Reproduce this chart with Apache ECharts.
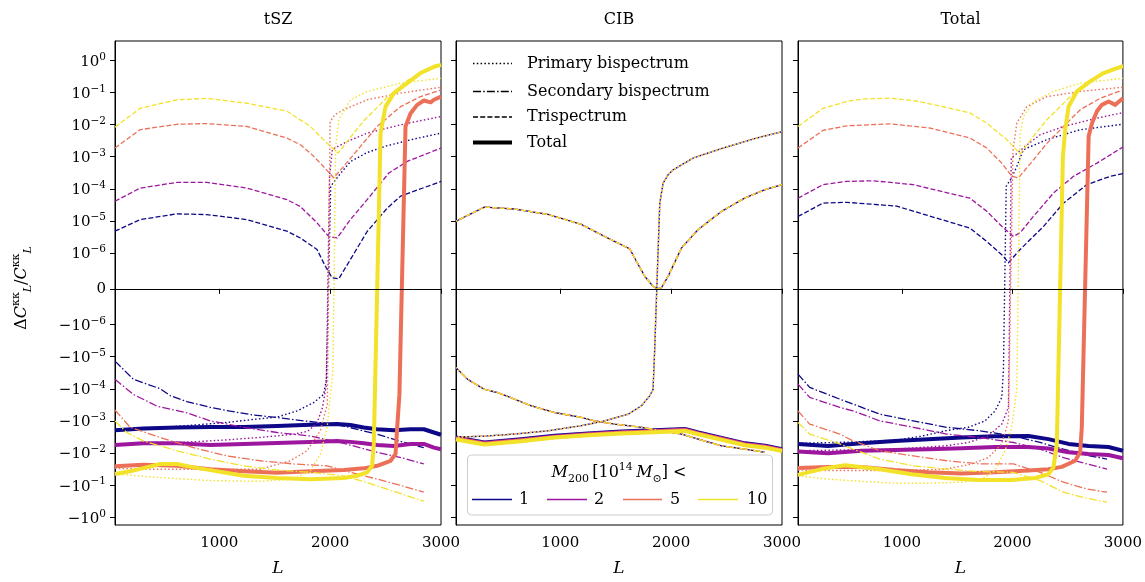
<!DOCTYPE html>
<html><head><meta charset="utf-8">
<script src="https://cdn.jsdelivr.net/npm/echarts@6/dist/echarts.min.js"></script>
<style>html,body{margin:0;padding:0;background:#fff}#c{width:1145px;height:582px}</style>
</head><body><div id="c"></div>
<script>
// ---------------- data ----------------
const L_TICKS = [1000, 2000, 3000];
const Y_EXPONENTS = [0, -1, -2, -3, -4, -5, -6];
const PANEL_TITLES = ['tSZ', 'CIB', 'Total'];
const MASS_LABELS = ['1', '2', '5', '10'];
const LINE_LABELS = ['Primary bispectrum', 'Secondary bispectrum', 'Trispectrum', 'Total'];

// tSZ panel
const tszPrim1 = [[60,-2.0e-3],[400,-1.7e-3],[768,-1.35e-3],[1069,-1.12e-3],[1310,-9.0e-4],[1521,-7.6e-4],[1702,-4.9e-4],[1852,-2.7e-4],[1942,-1.5e-4],[1967,-5e-5],[2005,1.2e-4],[2093,3.0e-4],[2183,7.0e-4],[2334,1.35e-3],[2515,2.2e-3],[2750,3.5e-3],[3000,5.4e-3]];
const tszPrim2 = [[60,-5.2e-3],[400,-4.9e-3],[700,-4.6e-3],[1069,-3.9e-3],[1400,-3.2e-3],[1672,-2.6e-3],[1800,-2.1e-3],[1880,-1.2e-3],[1930,-4e-4],[1965,-8e-5],[1995,2.5e-4],[2020,1.7e-3],[2153,2.95e-3],[2334,5.4e-3],[2635,9.8e-3],[3000,0.0178]];
const tszPrim5 = [[60,-0.030],[400,-0.032],[900,-0.032],[1370,-0.032],[1641,-0.0174],[1792,-8.5e-3],[1912,-2.0e-3],[1975,-3e-4],[2000,0.012],[2040,0.020],[2123,0.029],[2334,0.059],[2635,0.095],[3000,0.145]];
const tszPrim10 = [[60,-0.045],[467,-0.058],[919,-0.072],[1370,-0.076],[1671,-0.065],[1822,-0.035],[1912,-0.0107],[1973,-1.6e-3],[2025,-3e-5],[2050,2e-3],[2078,0.014],[2183,0.059],[2334,0.107],[2635,0.195],[3000,0.275]];
const tszSec1 = [[60,-1.38e-5],[226,-5.1e-5],[467,-1.0e-4],[560,-1.66e-4],[708,-2.5e-4],[919,-3.8e-4],[1100,-5.0e-4],[1310,-6.6e-4],[1521,-7.8e-4],[1762,-1.0e-3],[1950,-1.17e-3],[2123,-1.45e-3],[2424,-2.6e-3],[2650,-4.5e-3],[2845,-6.8e-3]];
const tszSec2 = [[60,-5.1e-5],[226,-1.5e-4],[440,-3.5e-4],[708,-5.6e-4],[919,-1.0e-3],[1220,-1.58e-3],[1521,-2.3e-3],[1822,-2.95e-3],[2123,-5.0e-3],[2424,-9.5e-3],[2650,-0.0141],[2845,-0.0219]];
const tszSec5 = [[60,-4.6e-4],[196,-1.58e-3],[467,-3.3e-3],[768,-6.8e-3],[1069,-0.0123],[1370,-0.0174],[1671,-0.0219],[1973,-0.0251],[2183,-0.0398],[2424,-0.0646],[2650,-0.105],[2845,-0.166]];
const tszSec10 = [[60,-1.0e-3],[166,-2.3e-3],[316,-4.2e-3],[618,-8.5e-3],[919,-0.0155],[1220,-0.0251],[1521,-0.0339],[1822,-0.0398],[2123,-0.0513],[2273,-0.0724],[2424,-0.105],[2650,-0.19],[2845,-0.316]];
const tszTri1 = [[60,4.8e-6],[286,1.1e-5],[618,1.66e-5],[889,1.58e-5],[1250,1.1e-5],[1611,4.8e-6],[1732,2.95e-6],[1882,1.29e-6],[1957,6.3e-7],[2018,3.1e-7],[2078,2.8e-7],[2183,8.2e-7],[2334,4.7e-6],[2515,2.5e-5],[2635,5.9e-5],[3000,1.7e-4]];
const tszTri2 = [[60,4.1e-5],[286,1.05e-4],[618,1.58e-4],[889,1.58e-4],[1250,1.05e-4],[1611,4.6e-5],[1732,2.8e-5],[1882,8.7e-6],[1987,3.3e-6],[2063,2.95e-6],[2183,1.1e-5],[2334,4.6e-5],[2530,3.1e-4],[2695,7.1e-4],[3000,1.86e-3]];
const tszTri5 = [[60,1.86e-3],[286,6.9e-3],[618,0.0102],[889,0.0107],[1250,8.7e-3],[1611,3.8e-3],[1732,2.34e-3],[1822,1.29e-3],[1912,6.3e-4],[2032,2.2e-4],[2123,5.0e-4],[2274,2.1e-3],[2424,8.7e-3],[2635,0.036],[2815,0.074],[3000,0.12]];
const tszTri10 = [[60,8.3e-3],[286,0.032],[618,0.059],[889,0.065],[1250,0.046],[1611,0.026],[1822,8.7e-3],[1957,2.95e-3],[2072,1.29e-3],[2190,4.3e-3],[2312,0.0141],[2523,0.074],[2704,0.245],[3000,0.72]];
const tszTot1 = [[60,-1.95e-3],[316,-1.74e-3],[618,-1.6e-3],[919,-1.55e-3],[1220,-1.55e-3],[1521,-1.45e-3],[1822,-1.32e-3],[2063,-1.26e-3],[2183,-1.35e-3],[2303,-1.6e-3],[2424,-1.82e-3],[2575,-1.95e-3],[2725,-1.82e-3],[2845,-1.82e-3],[2936,-2.3e-3],[3000,-2.7e-3]];
const tszTot2 = [[60,-5.6e-3],[316,-5.0e-3],[618,-5.0e-3],[919,-5.6e-3],[1220,-5.2e-3],[1521,-4.9e-3],[1822,-4.5e-3],[2063,-4.2e-3],[2183,-4.5e-3],[2303,-5.0e-3],[2424,-5.6e-3],[2575,-6.0e-3],[2725,-5.2e-3],[2845,-5.2e-3],[2936,-6.8e-3],[3000,-7.6e-3]];
const tszTot5 = [[60,-0.026],[316,-0.023],[618,-0.025],[919,-0.032],[1220,-0.037],[1521,-0.041],[1822,-0.037],[2123,-0.034],[2303,-0.030],[2424,-0.025],[2545,-0.0174],[2590,-0.0107],[2605,-1.6e-3],[2625,-1.5e-4],[2680,8.7e-3],[2725,0.022],[2785,0.041],[2846,0.056],[2906,0.049],[2936,0.059],[3000,0.074]];
const tszTot10 = [[60,-0.045],[196,-0.037],[316,-0.0295],[467,-0.022],[618,-0.022],[768,-0.028],[919,-0.034],[1220,-0.051],[1521,-0.060],[1822,-0.065],[2123,-0.060],[2243,-0.051],[2334,-0.040],[2379,-0.025],[2394,-5.2e-3],[2455,5.4e-3],[2500,0.036],[2575,0.095],[2695,0.195],[2815,0.40],[2936,0.63],[3000,0.72]];

// CIB panel
const cibPrim = [[60,-3.2e-3],[300,-3.0e-3],[587,-2.57e-3],[888,-2.04e-3],[1190,-1.41e-3],[1400,-1.0e-3],[1611,-6.2e-4],[1732,-3.4e-4],[1807,-1.66e-4],[1837,-1.05e-4],[1852,-5.9e-6],[1883,1.3e-6],[1898,3.6e-5],[1928,1.5e-4],[1973,2.75e-4],[2018,3.9e-4],[2199,9.1e-4],[2470,1.86e-3],[2772,3.8e-3],[3000,6.0e-3]];
const cibSec = [[60,-2.2e-5],[166,-5.1e-5],[316,-1.05e-4],[437,-1.32e-4],[587,-2.1e-4],[738,-3.4e-4],[949,-5.5e-4],[1190,-7.8e-4],[1310,-1.0e-3],[1491,-1.26e-3],[1732,-1.58e-3],[1913,-2.04e-3],[2094,-2.57e-3],[2245,-3.7e-3],[2456,-6.0e-3],[2666,-7.6e-3],[2847,-9.5e-3]];
const cibTri = [[60,9.8e-6],[316,2.7e-5],[587,2.35e-5],[888,1.6e-5],[1190,7.8e-6],[1400,3.3e-6],[1627,1.35e-6],[1687,7.7e-7],[1762,3.5e-7],[1837,7e-8],[1875,0],[1913,3e-8],[1973,3.5e-7],[2094,1.45e-6],[2244,5.4e-6],[2456,2.0e-5],[2666,5.2e-5],[2847,9.4e-5],[3000,1.35e-4]];
const cibTot1 = [[60,-3.3e-3],[316,-4.7e-3],[648,-3.7e-3],[949,-2.9e-3],[1250,-2.45e-3],[1551,-2.15e-3],[1853,-1.95e-3],[2124,-1.78e-3],[2245,-2.3e-3],[2456,-3.4e-3],[2666,-5.0e-3],[2847,-5.9e-3],[3000,-7.6e-3]];
const cibTot2 = [[60,-3.45e-3],[316,-4.9e-3],[648,-3.9e-3],[949,-3.05e-3],[1250,-2.55e-3],[1551,-2.25e-3],[1853,-2.05e-3],[2124,-1.86e-3],[2245,-2.4e-3],[2456,-3.55e-3],[2666,-5.2e-3],[2847,-6.2e-3],[3000,-7.9e-3]];
const cibTot5 = [[60,-3.6e-3],[316,-5.15e-3],[648,-4.05e-3],[949,-3.2e-3],[1250,-2.7e-3],[1551,-2.35e-3],[1853,-2.15e-3],[2124,-1.95e-3],[2245,-2.5e-3],[2456,-3.7e-3],[2666,-5.5e-3],[2847,-6.5e-3],[3000,-8.3e-3]];
const cibTot10 = [[60,-3.8e-3],[316,-5.4e-3],[648,-4.3e-3],[949,-3.3e-3],[1250,-2.8e-3],[1551,-2.45e-3],[1853,-2.25e-3],[2124,-2.05e-3],[2245,-2.6e-3],[2456,-3.9e-3],[2666,-5.75e-3],[2847,-6.8e-3],[3000,-8.7e-3]];

// Total panel
const totPrim1 = [[60,-5.0e-3],[500,-4.6e-3],[937,-4.0e-3],[1178,-3.0e-3],[1390,-2.04e-3],[1601,-1.58e-3],[1752,-1.0e-3],[1843,-4.9e-4],[1904,-1.86e-4],[1919,-2.5e-5],[1944,1.2e-4],[1994,2.2e-4],[2040,5.0e-4],[2100,1.66e-3],[2312,3.4e-3],[2614,6.9e-3],[3000,0.0102]];
const totPrim2 = [[60,-8.5e-3],[500,-8.0e-3],[937,-7.6e-3],[1390,-6.0e-3],[1601,-4.7e-3],[1782,-2.95e-3],[1904,-1.26e-3],[1964,-3.8e-4],[1990,9e-4],[2130,2.3e-3],[2250,4.8e-3],[2463,8.7e-3],[2765,0.0158],[3000,0.0234]];
const totPrim5 = [[60,-0.034],[332,-0.035],[937,-0.035],[1390,-0.032],[1632,-0.022],[1782,-0.0138],[1904,-5.2e-3],[1964,-1.0e-3],[2005,1.5e-3],[2040,0.011],[2130,0.036],[2312,0.074],[2614,0.107],[3000,0.145]];
const totPrim10 = [[60,-0.051],[332,-0.065],[634,-0.076],[937,-0.087],[1239,-0.087],[1541,-0.081],[1722,-0.065],[1843,-0.035],[1934,-8.5e-3],[1994,-1.58e-3],[2040,-1e-4],[2070,5e-3],[2100,0.0178],[2190,0.052],[2372,0.107],[2614,0.195],[3000,0.275]];
const totSec1 = [[60,-3.5e-5],[166,-9.1e-5],[438,-2.1e-4],[558,-3.0e-4],[801,-6.2e-4],[1103,-1.0e-3],[1405,-1.58e-3],[1707,-2.04e-3],[2009,-2.95e-3],[2251,-4.7e-3],[2462,-7.6e-3],[2674,-0.0117],[2856,-0.0155]];
const totSec2 = [[60,-7.2e-5],[166,-1.86e-4],[438,-3.8e-4],[558,-4.9e-4],[801,-1.0e-3],[1103,-1.58e-3],[1405,-2.57e-3],[1707,-3.3e-3],[2009,-4.7e-3],[2251,-7.6e-3],[2462,-0.0138],[2674,-0.0219],[2856,-0.0316]];
const totSec5 = [[60,-4.9e-4],[166,-1.26e-3],[438,-2.57e-3],[558,-4.2e-3],[801,-8.5e-3],[1103,-0.0123],[1405,-0.0174],[1707,-0.0219],[2009,-0.0219],[2251,-0.0398],[2462,-0.081],[2674,-0.132],[2856,-0.166]];
const totSec10 = [[60,-1.12e-3],[166,-2.57e-3],[438,-5.2e-3],[558,-7.6e-3],[801,-0.0155],[1103,-0.0251],[1405,-0.0316],[1707,-0.038],[2009,-0.0398],[2251,-0.0724],[2462,-0.166],[2674,-0.257],[2856,-0.339]];
const totTri1 = [[60,1.38e-5],[287,3.6e-5],[499,3.8e-5],[951,2.9e-5],[1616,6.0e-6],[1768,2.3e-6],[1919,9.1e-7],[1964,7.3e-7],[2070,1.29e-6],[2282,6.8e-6],[2463,3.6e-5],[2674,1.35e-4],[2886,2.45e-4],[3000,2.95e-4]];
const totTri2 = [[60,5.1e-5],[287,1.35e-4],[499,1.7e-4],[740,1.78e-4],[1102,1.35e-4],[1616,5.1e-5],[1768,2.0e-5],[1904,6.8e-6],[2010,3.3e-6],[2070,4.3e-6],[2190,1.38e-5],[2372,7.4e-5],[2553,2.45e-4],[2765,6.3e-4],[3000,2.0e-3]];
const totTri5 = [[60,1.86e-3],[287,6.6e-3],[499,9.1e-3],[891,0.0105],[1254,7.8e-3],[1616,3.8e-3],[1768,1.86e-3],[1904,6.3e-4],[1994,2.45e-4],[2055,2.2e-4],[2190,7.9e-4],[2312,2.6e-3],[2463,8.7e-3],[2614,0.029],[2795,0.066],[3000,0.12]];
const totTri10 = [[60,8.7e-3],[287,0.032],[499,0.052],[649,0.062],[891,0.066],[1102,0.056],[1345,0.038],[1616,0.023],[1768,0.011],[1949,3.4e-3],[2070,1.23e-3],[2190,4.3e-3],[2312,0.0141],[2523,0.074],[2704,0.245],[3000,0.72]];
const totTot1 = [[60,-5.2e-3],[332,-6.0e-3],[635,-5.0e-3],[937,-4.2e-3],[1239,-3.7e-3],[1541,-3.3e-3],[1843,-3.0e-3],[2145,-2.95e-3],[2326,-3.7e-3],[2508,-5.2e-3],[2689,-6.0e-3],[2870,-6.5e-3],[3000,-8.5e-3]];
const totTot2 = [[60,-8.9e-3],[332,-0.0102],[635,-8.5e-3],[937,-8.1e-3],[1239,-7.6e-3],[1541,-7.1e-3],[1843,-6.5e-3],[2145,-6.5e-3],[2326,-7.2e-3],[2508,-9.5e-3],[2689,-0.0107],[2870,-0.0115],[3000,-0.0145]];
const totTot5 = [[60,-0.0295],[332,-0.027],[635,-0.027],[937,-0.034],[1239,-0.040],[1541,-0.043],[1843,-0.040],[2145,-0.035],[2326,-0.032],[2447,-0.027],[2568,-0.0174],[2613,-9.5e-3],[2628,-1.6e-3],[2690,4.3e-3],[2720,0.011],[2765,0.026],[2810,0.041],[2870,0.052],[2931,0.041],[3000,0.066]];
const totTot10 = [[60,-0.048],[274,-0.0316],[484,-0.024],[785,-0.0316],[1088,-0.0457],[1390,-0.060],[1692,-0.069],[1994,-0.069],[2206,-0.060],[2326,-0.0457],[2372,-0.028],[2402,-5.2e-3],[2457,1.0e-3],[2478,6.9e-3],[2508,0.036],[2583,0.107],[2704,0.22],[2825,0.40],[2916,0.52],[3000,0.66]];

// ---------------- style ----------------
const F = "'DejaVu Serif', serif";
const COLORS = ['#0d0887', '#9c179e', '#ec7058', '#f3e22a'];
const KIND = {
  prim: {dash: [1.5, 2.3], width: 1.4, half: 1.9},
  sec:  {dash: [8, 2.2, 1.5, 2.2], width: 1.3, half: 7},
  tri:  {dash: [5, 2.2], width: 1.3, half: 3.6},
  tot:  {dash: 'solid', width: 4, half: 0}
};
const LT = 1e-6, LS = 1 / (1 - 1 / 10);
function sl(v) { const a = Math.abs(v); return a <= LT ? v / LT * LS : Math.sign(v) * (Math.log10(a / LT) + LS); }

const PANELS = [
  {prim: [tszPrim1, tszPrim2, tszPrim5, tszPrim10], sec: [tszSec1, tszSec2, tszSec5, tszSec10], tri: [tszTri1, tszTri2, tszTri5, tszTri10], tot: [tszTot1, tszTot2, tszTot5, tszTot10], shift: false},
  {prim: [cibPrim, cibPrim, cibPrim, cibPrim], sec: [cibSec, cibSec, cibSec, cibSec], tri: [cibTri, cibTri, cibTri, cibTri], tot: [cibTot1, cibTot2, cibTot5, cibTot10], shift: true},
  {prim: [totPrim1, totPrim2, totPrim5, totPrim10], sec: [totSec1, totSec2, totSec5, totSec10], tri: [totTri1, totTri2, totTri5, totTri10], tot: [totTot1, totTot2, totTot5, totTot10], shift: false}
];
const GRID_POS = [{left: 115, width: 326}, {left: 456, width: 326}, {left: 798, width: 325}];
const Y_MIN = -7.351, Y_MAX = 7.711;
const Y_TICK_POS = [...Y_EXPONENTS.map(e => sl(Math.pow(10, e))), 0, ...Y_EXPONENTS.map(e => sl(-Math.pow(10, e)))];

function yFmt(v) {
  if (Math.abs(v) < 0.5) return '{n|0}';
  const e = Math.round(Math.abs(v) - LS) - 6;
  const es = e < 0 ? '\u2212' + (-e) : String(e);
  return '{n|' + (v < 0 ? '\u221210' : '10') + '}{s|' + es + '}';
}

const grids = [], xAxes = [], yAxes = [], series = [];
GRID_POS.forEach((g, i) => {
  grids.push({left: g.left, top: 41, width: g.width, height: 485, show: true, borderColor: '#000', borderWidth: 1, backgroundColor: 'transparent'});
  xAxes.push({type: 'value', gridIndex: i, min: 60, max: 3000,
    axisLine: {show: true, lineStyle: {color: '#000', width: 1}},
    axisTick: {show: true, inside: false, length: 5, customValues: L_TICKS, lineStyle: {color: '#000', width: 1}},
    axisLabel: {customValues: L_TICKS, margin: 11, color: '#000', fontFamily: F, fontSize: 15, showMaxLabel: true, showMinLabel: true,
      formatter: v => String(Math.round(v))},
    splitLine: {show: false},
    name: 'L', nameLocation: 'middle', nameGap: 35,
    nameTextStyle: {fontFamily: F, fontSize: 17, fontStyle: 'italic', color: '#000'}});
  yAxes.push({type: 'value', gridIndex: i, min: Y_MIN, max: Y_MAX,
    axisLine: {show: true, lineStyle: {color: '#000', width: 1}},
    axisTick: {show: true, inside: false, length: 5, customValues: Y_TICK_POS, lineStyle: {color: '#000', width: 1}},
    axisLabel: {show: i === 0, customValues: Y_TICK_POS, margin: 9, formatter: yFmt, color: '#000',
      rich: {n: {fontFamily: F, fontSize: 15, color: '#000', verticalAlign: 'bottom'},
             s: {fontFamily: F, fontSize: 10.5, color: '#000', verticalAlign: 'bottom', padding: [0, 0, 7, 0]}}},
    splitLine: {show: false}});
  const P = PANELS[i];
  let first = true;
  for (let m = 0; m < 4; m++) {
    ['prim', 'sec', 'tri', 'tot'].forEach(k => {
      const K = KIND[k];
      const s = {type: 'line', xAxisIndex: i, yAxisIndex: i, name: MASS_LABELS[m],
        data: P[k][m].map(p => [p[0], sl(p[1])]),
        showSymbol: false, symbol: 'none', silent: true, animation: false, clip: true,
        lineStyle: {color: COLORS[m], width: K.width, type: K.dash, dashOffset: (P.shift && m > 0) ? K.half : 0, cap: 'butt', join: 'round'}};
      if (first) {
        s.markLine = {silent: true, symbol: ['none', 'none'], label: {show: false}, animation: false,
          lineStyle: {color: '#000', width: 1, type: 'solid'}, data: [{yAxis: 0}]};
        first = false;
      }
      series.push(s);
    });
  }
});

// ---------------- annotations ----------------
const graphics = [];
const titleX = [278, 619, 960.5];
PANEL_TITLES.forEach((t, i) => graphics.push({type: 'text', x: titleX[i], y: 20,
  style: {text: t, font: '16px ' + F, fill: '#000', align: 'center', verticalAlign: 'middle', textAlign: 'center', textVerticalAlign: 'middle'}}));

const RICH = {
  n: {fontFamily: F, fontSize: 16, color: '#000', verticalAlign: 'bottom', padding: [0, 0, 4, 0]},
  i: {fontFamily: F, fontSize: 16, fontStyle: 'italic', color: '#000', verticalAlign: 'bottom', padding: [0, 0, 4, 0]},
  sb: {fontFamily: F, fontSize: 11, color: '#000', verticalAlign: 'bottom'},
  sbi: {fontFamily: F, fontSize: 11, fontStyle: 'italic', color: '#000', verticalAlign: 'bottom'},
  sp: {fontFamily: F, fontSize: 11, color: '#000', verticalAlign: 'bottom', padding: [0, 0, 12, 0]}
};
graphics.push({type: 'text', x: 22, y: 288, rotation: Math.PI / 2,
  style: {text: '{n|\u0394}{i|C}{sp|\u03ba\u03ba}{sbi|L}{n|/}{i|C}{sp|\u03ba\u03ba}{sbi|L}', rich: RICH,
    align: 'center', verticalAlign: 'middle', textAlign: 'center', textVerticalAlign: 'middle'}});

// line-style legend (CIB panel)
const styleRows = [63.5, 91.5, 117, 142.5];
['prim', 'sec', 'tri', 'tot'].forEach((k, r) => {
  const K = KIND[k];
  graphics.push({type: 'line', shape: {x1: 473, y1: styleRows[r], x2: 512, y2: styleRows[r]},
    style: {stroke: '#000', lineWidth: K.width, lineDash: K.dash === 'solid' ? null : K.dash}});
  graphics.push({type: 'text', x: 527, y: styleRows[r],
    style: {text: LINE_LABELS[r], font: '16px ' + F, fill: '#000', align: 'left', verticalAlign: 'middle', textAlign: 'left', textVerticalAlign: 'middle'}});
});

// mass legend
graphics.push({type: 'rect', shape: {x: 467.5, y: 455, width: 305, height: 60, r: 4},
  style: {fill: 'rgba(255,255,255,0.8)', stroke: '#cccccc', lineWidth: 1}, z: 50});
graphics.push({type: 'text', x: 619, y: 473, z: 51,
  style: {text: '{i|M}{sb|200} {n|[10}{sp|14} {i|M}{sb|\u2299}{n|] <}', rich: RICH,
    align: 'center', verticalAlign: 'middle', textAlign: 'center', textVerticalAlign: 'middle'}});
const massLineX = [[472, 512], [547, 587], [623, 662], [698, 738]];
const massTextX = [519, 594, 670, 747];
MASS_LABELS.forEach((lab, m) => {
  graphics.push({type: 'line', z: 51, shape: {x1: massLineX[m][0], y1: 499.5, x2: massLineX[m][1], y2: 499.5},
    style: {stroke: COLORS[m], lineWidth: 1.6}});
  graphics.push({type: 'text', x: massTextX[m], y: 499.5, z: 51,
    style: {text: lab, font: '16px ' + F, fill: '#000', align: 'left', verticalAlign: 'middle', textAlign: 'left', textVerticalAlign: 'middle'}});
});

const chart = echarts.init(document.getElementById('c'), null, {renderer: 'canvas'});
chart.setOption({
  animation: false, backgroundColor: '#fff',
  grid: grids, xAxis: xAxes, yAxis: yAxes, series: series, graphic: graphics
});
</script></body></html>
